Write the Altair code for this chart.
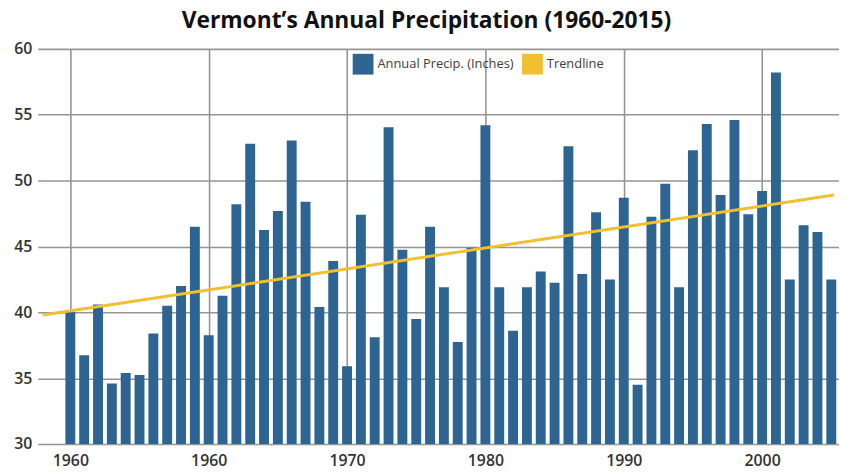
import altair as alt
import pandas as pd

years = list(range(1960, 2016))
precip = [
    40.0, 36.75, 40.6, 34.6, 35.4, 35.25, 38.4, 40.5, 42.0, 46.5,
    38.25, 41.25, 48.2, 52.8, 46.25, 47.7, 53.05, 48.4, 40.4, 43.9,
    35.9, 47.4, 38.1, 54.05, 44.75, 39.5, 46.5, 41.9, 37.75, 44.9,
    54.2, 41.9, 38.6, 41.9, 43.1, 42.25, 52.6, 42.9, 47.6, 42.5,
    48.7, 34.5, 47.25, 49.75, 41.9, 52.3, 54.3, 48.9, 54.6, 47.45,
    49.2, 58.2, 42.5, 46.6, 46.1, 42.5,
]
trend_years = [1958.0, 2015.2]
trend_values = [39.8, 48.9]

series_names = ["Annual Precip. (Inches)", "Trendline"]
series_colors = ["#2e6491", "#f0c030"]

x_tick_values = [1960, 1970, 1980, 1990, 2000, 2010]
x_tick_labels = ["1960", "1960", "1970", "1980", "1990", "2000"]
y_tick_values = [30, 35, 40, 45, 50, 55, 60]

bars_df = pd.DataFrame({"year": years, "precip": precip, "series": series_names[0]})
trend_df = pd.DataFrame({"year": trend_years, "precip": trend_values})

label_expr = " : ".join(
    f"datum.value == {v} ? '{l}'" for v, l in zip(x_tick_values, x_tick_labels)
) + " : ''"

x_scale = alt.Scale(domain=[1958.0, 2015.2], nice=False, zero=False)
y_scale = alt.Scale(domain=[30, 60], nice=False, zero=False)

x_axis = alt.Axis(values=x_tick_values, labelExpr=label_expr, title=None,
                  domain=False, ticks=False, labelPadding=9, labelFontSize=16,
                  labelColor="#333333", labelFont="Open Sans", labelFontWeight=600,
                  grid=True, gridColor="#959595", gridWidth=1.6)
y_axis = alt.Axis(values=y_tick_values, title=None, domain=False, ticks=False,
                  labelPadding=6, labelFontSize=16, labelColor="#333333",
                  labelFont="Open Sans", labelFontWeight=600,
                  grid=True, gridColor="#959595", gridWidth=1.6)

bars = alt.Chart(bars_df).mark_bar(size=10, clip=True).encode(
    x=alt.X("year:Q", scale=x_scale, axis=x_axis),
    y=alt.Y("precip:Q", scale=y_scale, axis=y_axis),
    color=alt.Color(
        "series:N",
        scale=alt.Scale(domain=series_names, range=series_colors),
        legend=alt.Legend(
            title=None, orient="none", legendX=318, legendY=5,
            direction="horizontal", symbolType="square", symbolSize=440,
            symbolStrokeWidth=0, labelFontSize=13, labelColor="#404040",
            labelFont="Open Sans", labelOffset=4, columnPadding=8,
        ),
    ),
)

trend = alt.Chart(trend_df).mark_line(clip=True, strokeWidth=3, color=series_colors[1]).encode(
    x=alt.X("year:Q", scale=x_scale),
    y=alt.Y("precip:Q", scale=y_scale),
)

chart = alt.layer(bars, trend).properties(
    width=809,
    height=399,
    padding={"left": 30, "top": 39, "right": 0, "bottom": 28},
    autosize=alt.AutoSizeParams(type="none"),
    title=alt.TitleParams(
        "Vermont\u2019s Annual Precipitation (1960-2015)",
        font="Open Sans", fontSize=23, fontWeight="bold", color="#111111",
        anchor="middle", dx=-12, offset=8,
    ),
).configure_view(stroke=None)

chart.save("out.html", embed_options={"renderer": "svg", "actions": False})
